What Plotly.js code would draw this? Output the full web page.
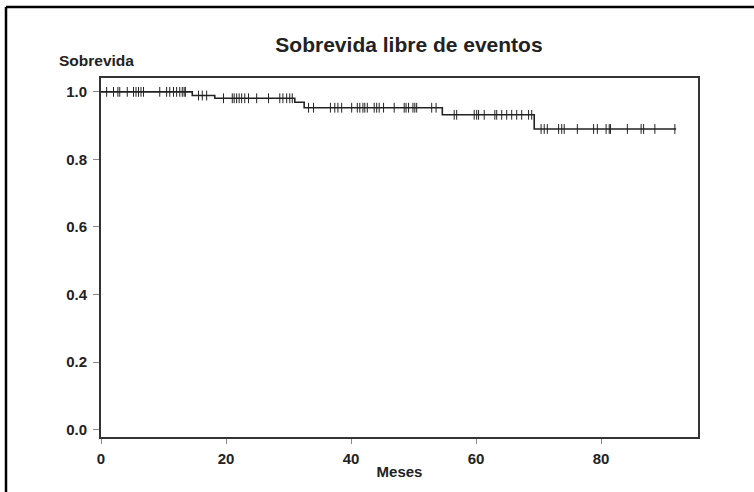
<!DOCTYPE html>
<html>
<head>
<meta charset="utf-8">
<script src="https://cdn.plot.ly/plotly-3.0.1.min.js"></script>
<style>
html,body{margin:0;padding:0;background:#fff;}
#chart{width:754px;height:492px;}
</style>
</head>
<body>
<div id="chart"></div>
<script>
// Kaplan-Meier step curve (months, survival)
var stepTimes = [0, 14.6, 18.2, 31.0, 32.5, 54.6, 69.3, 92.0];
var stepSurv  = [1.0, 0.989, 0.981, 0.969, 0.953, 0.932, 0.890, 0.890];

// Censored observations (months)
var censorTimes = [
  0.9, 2.0, 2.7, 3.0, 4.2, 5.2, 5.6, 6.0, 6.4, 6.8,
  9.4, 10.5, 11.0, 11.6, 12.1, 12.6, 13.0, 13.3, 13.5,
  15.6, 16.2, 16.9,
  19.6, 21.0, 21.3, 21.7, 22.1, 22.5, 23.0, 23.6, 24.9, 26.8, 28.6, 29.1, 29.7, 30.2, 30.6,
  33.2, 34.0, 36.7, 37.4, 37.9, 38.5, 40.1, 41.0, 41.4, 41.9, 42.2, 42.6, 43.7, 44.1, 44.5, 45.2,
  46.9, 48.5, 48.8, 49.2, 49.9, 50.2, 50.5, 52.9, 53.6,
  56.5, 56.9, 59.7, 60.1, 60.4, 61.3, 63.0, 63.3, 64.1, 64.9, 65.7, 66.5, 67.3, 68.4, 68.9,
  70.4, 70.9, 71.4, 73.2, 73.7, 74.1, 76.2, 78.8, 79.4, 80.8, 81.3, 81.5, 84.2, 86.4, 86.8, 88.6, 91.8
];

var xTickVals = [0, 20, 40, 60, 80];
var yTickVals = [0.0, 0.2, 0.4, 0.6, 0.8, 1.0];
var yTickText = ["0.0", "0.2", "0.4", "0.6", "0.8", "1.0"];

var titleText = "Sobrevida libre de eventos";
var yLabel = "Sobrevida";
var xLabel = "Meses";

// survival level at a censor time = last step at or before it
var censorSurv = censorTimes.map(function(t){
  var s = stepSurv[0];
  for (var i = 0; i < stepTimes.length; i++) { if (stepTimes[i] <= t) s = stepSurv[i]; }
  return s;
});

var FONT = "Liberation Sans, Arial, Helvetica, sans-serif";
var INK = "#222";

var traces = [
  {x: stepTimes, y: stepSurv, mode: "lines", line: {shape: "hv", color: INK, width: 1.6},
   hoverinfo: "skip", showlegend: false},
  {x: censorTimes, y: censorSurv, mode: "markers",
   marker: {symbol: "line-ns", size: 7, line: {color: INK, width: 1}},
   hoverinfo: "skip", showlegend: false}
];

function xp(px){ return (px - 101) / 597; }
function yp(py){ return (437 - py) / 359; }

var layout = {
  width: 754, height: 492,
  margin: {l: 101, r: 56, t: 78, b: 55},
  paper_bgcolor: "#fff", plot_bgcolor: "#fff",
  font: {family: FONT, color: INK},
  title: {text: "<b>" + titleText + "</b>", font: {family: FONT, size: 21, color: INK},
          x: 409/754, xanchor: "center", y: 1 - 45/492, yanchor: "middle", xref: "container", yref: "container"},
  xaxis: {range: [0, 95.5], tickvals: xTickVals, ticktext: xTickVals.map(String),
          ticks: "outside", ticklen: 5, tickwidth: 1, tickcolor: "#888",
          showline: true, linecolor: "#333", linewidth: 2, mirror: true,
          showgrid: false, zeroline: false, ticklabelstandoff: 2,
          tickfont: {family: FONT, size: 15, color: INK, weight: "bold"},
          title: {text: "<b>" + xLabel + "</b>", font: {family: FONT, size: 15, color: INK}, standoff: 0}},
  yaxis: {range: [-0.022, 1.041], tickvals: yTickVals, ticktext: yTickText,
          ticks: "outside", ticklen: 6, tickwidth: 1, tickcolor: "#888",
          showline: true, linecolor: "#333", linewidth: 2, mirror: true,
          showgrid: false, zeroline: false, ticklabelstandoff: 3,
          tickfont: {family: FONT, size: 15, color: INK, weight: "bold"}},
  annotations: [
    {text: "<b>" + yLabel + "</b>", xref: "paper", yref: "paper", x: xp(57), y: yp(60),
     xanchor: "left", yanchor: "middle", showarrow: false, font: {family: FONT, size: 15.5, color: INK}}
  ],
  shapes: [
    {type: "line", xref: "paper", yref: "paper", x0: xp(6), x1: xp(760), y0: yp(7), y1: yp(7),
     line: {color: "#000", width: 2.5}},
    {type: "line", xref: "paper", yref: "paper", x0: xp(6), x1: xp(6), y0: yp(7), y1: yp(500),
     line: {color: "#000", width: 2.5}}
  ]
};

Plotly.newPlot("chart", traces, layout, {displayModeBar: false, staticPlot: true});
</script>
</body>
</html>
